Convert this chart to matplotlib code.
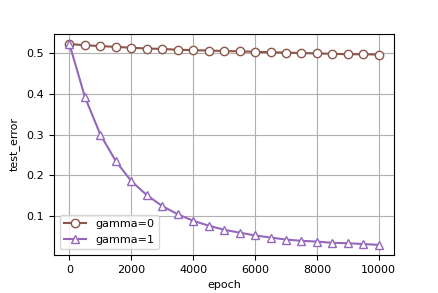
import matplotlib
matplotlib.use("Agg")
import matplotlib.pyplot as plt

epochs = [0, 500, 1000, 1500, 2000, 2500, 3000, 3500, 4000, 4500, 5000,
          5500, 6000, 6500, 7000, 7500, 8000, 8500, 9000, 9500, 10000]
gamma0 = [0.522, 0.519, 0.517, 0.515, 0.513, 0.511, 0.510, 0.508, 0.507, 0.506, 0.505,
          0.504, 0.503, 0.502, 0.501, 0.500, 0.499, 0.498, 0.497, 0.497, 0.496]
gamma1 = [0.522, 0.392, 0.300, 0.235, 0.186, 0.152, 0.125, 0.105, 0.089, 0.077, 0.067,
          0.060, 0.053, 0.048, 0.043, 0.040, 0.038, 0.035, 0.034, 0.032, 0.030]
labels = ["gamma=0", "gamma=1"]

plt.rcParams['font.size'] = 8
fig = plt.figure(figsize=(4.39, 2.93), dpi=100)
ax = fig.add_axes([0.123, 0.13, 0.775, 0.754])
ax.plot(epochs, gamma0, color="#8c564b", marker="o", markerfacecolor="white",
        markersize=6, label=labels[0])
ax.plot(epochs, gamma1, color="#9467bd", marker="^", markerfacecolor="white",
        markersize=6, label=labels[1])
ax.grid(True)
ax.set_xlabel("epoch")
ax.set_ylabel("test_error")
ax.set_xticks([0, 2000, 4000, 6000, 8000, 10000])
ax.set_yticks([0.1, 0.2, 0.3, 0.4, 0.5])
ax.legend(loc="lower left")
fig.savefig("out.png", dpi=100)
